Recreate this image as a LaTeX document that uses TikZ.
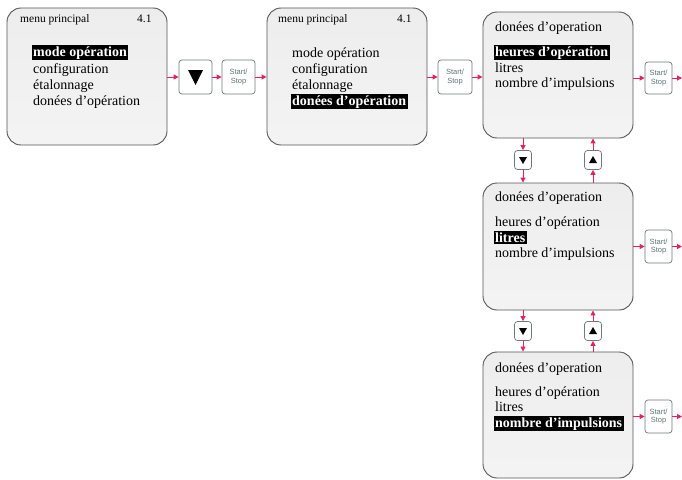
\documentclass[tikz,border=0pt]{standalone}
\usepackage{fontspec}
\setmainfont{Liberation Serif}
\newfontfamily\btnfont{Liberation Sans}
\usetikzlibrary{arrows.meta}
\definecolor{connred}{HTML}{E0245E}
\definecolor{edgegray}{HTML}{555555}
\definecolor{btnedge}{HTML}{707878}
\definecolor{btntext}{HTML}{5F7474}
\begin{document}
\begin{tikzpicture}[x=1pt,y=-1pt,
  panel/.style={draw=edgegray, line width=0.9pt, rounded corners=14pt,
    top color=gray!14, bottom color=gray!9, inner sep=0pt},
  btn/.style={draw=btnedge, fill=white, line width=0.7pt, rounded corners=3pt,
    inner sep=0pt, align=center, text=btntext,
    font=\btnfont\fontsize{7.5}{8.5}\selectfont},
  item/.style={anchor=base west, inner sep=0pt, font=\fontsize{14}{16}\selectfont},
  title/.style={anchor=base west, inner sep=0pt, font=\fontsize{11.5}{13}\selectfont},
  hl/.style={anchor=base west, fill=black, text=white, inner xsep=1.5pt, inner ysep=1.5pt,
    font=\fontsize{14}{16}\selectfont\bfseries},
  link/.style={draw=connred, line width=1pt, -{Triangle[length=5pt,width=5pt]}}]
\useasboundingbox (0,0) rectangle (682,479);

% panels
\node[panel, minimum width=160pt, minimum height=137pt] (b1) at (87,76.5) {};
\node[panel, minimum width=160pt, minimum height=137pt] (b2) at (347,76.5) {};
\node[panel, minimum width=150pt, minimum height=126pt] (b3) at (558,75) {};
\node[panel, minimum width=150pt, minimum height=127pt] (b4) at (558,246.5) {};
\node[panel, minimum width=150pt, minimum height=126pt] (b5) at (558,415) {};

% panel 1 text
\node[title] (t1) at (20,22) {menu principal};
\node[title] (n1) at (137,22) {4.1};
\node[hl] (m1a) at (31.5,56) {mode opération};
\node[item] (m1b) at (33,73) {configuration};
\node[item] (m1c) at (33,89) {étalonnage};
\node[item] (m1d) at (33,105) {donées d'opération};

% panel 2 text
\node[title] (t2) at (278,22) {menu principal};
\node[title] (n2) at (397,22) {4.1};
\node[item] (m2a) at (292,57) {mode opération};
\node[item] (m2b) at (292,73) {configuration};
\node[item] (m2c) at (292,89) {étalonnage};
\node[hl] (m2d) at (290.5,105) {donées d'opération};

% panel 3 text
\node[item] (t3) at (495,31) {donées d'operation};
\node[hl] (m3a) at (493.5,56) {heures d'opération};
\node[item] (m3b) at (495,72) {litres};
\node[item] (m3c) at (495,87) {nombre d'impulsions};

% panel 4 text
\node[item] (t4) at (495,201) {donées d'operation};
\node[item] (m4a) at (495,226) {heures d'opération};
\node[hl] (m4b) at (493.5,242) {litres};
\node[item] (m4c) at (495,257) {nombre d'impulsions};

% panel 5 text
\node[item] (t5) at (495,372) {donées d'operation};
\node[item] (m5a) at (495,396) {heures d'opération};
\node[item] (m5b) at (495,411) {litres};
\node[hl] (m5c) at (493.5,427) {nombre d'impulsions};

% buttons
\node[btn, minimum width=33pt, minimum height=34pt] (d1) at (195.5,77) {};
\node[btn, minimum width=33pt, minimum height=34pt] (s1) at (238.5,77) {Start/\\Stop};
\node[btn, minimum width=34pt, minimum height=34pt] (s2) at (455,77) {Start/\\Stop};
\node[btn, minimum width=27pt, minimum height=32pt] (s3) at (658.5,78) {Start/\\Stop};
\node[btn, minimum width=27pt, minimum height=33pt] (s4) at (658.5,246.5) {Start/\\Stop};
\node[btn, minimum width=27pt, minimum height=33pt] (s5) at (658.5,416.5) {Start/\\Stop};
\node[btn, minimum width=17pt, minimum height=19pt] (d2) at (523,160) {};
\node[btn, minimum width=17pt, minimum height=19pt] (u2) at (593,160) {};
\node[btn, minimum width=17pt, minimum height=19pt] (d3) at (523,331) {};
\node[btn, minimum width=17pt, minimum height=19pt] (u3) at (593,331) {};

% triangles
\fill (d1.center) +(-7.5,-7) -- +(7.5,-7) -- +(0,8) -- cycle;
\fill (d2.center) +(-4,-3) -- +(4,-3) -- +(0,4) -- cycle;
\fill (d3.center) +(-4,-3) -- +(4,-3) -- +(0,4) -- cycle;
\fill (u2.center) +(-4,3) -- +(4,3) -- +(0,-4) -- cycle;
\fill (u3.center) +(-4,3) -- +(4,3) -- +(0,-4) -- cycle;

% free ends
\coordinate (o3) at (682,78);
\coordinate (o4) at (682,246.5);
\coordinate (o5) at (682,416.5);

% connectors
\draw[link] (b1.east |- d1.west) -- (d1.west);
\draw[link] (d1.east) -- (s1.west);
\draw[link] (s1.east) -- (b2.west |- s1.east);
\draw[link] (b2.east |- s2.west) -- (s2.west);
\draw[link] (s2.east) -- (b3.west |- s2.east);
\draw[link] (b3.east |- s3.west) -- (s3.west);
\draw[link] (s3.east) -- (o3);
\draw[link] (b4.east |- s4.west) -- (s4.west);
\draw[link] (s4.east) -- (o4);
\draw[link] (b5.east |- s5.west) -- (s5.west);
\draw[link] (s5.east) -- (o5);

\draw[link] (b3.south -| d2) -- (d2.north);
\draw[link] (d2.south) -- (b4.north -| d2);
\draw[link] (b4.north -| u2) -- (u2.south);
\draw[link] (u2.north) -- (b3.south -| u2);

\draw[link] (b4.south -| d3) -- (d3.north);
\draw[link] (d3.south) -- (b5.north -| d3);
\draw[link] (b5.north -| u3) -- (u3.south);
\draw[link] (u3.north) -- (b4.south -| u3);
\end{tikzpicture}
\end{document}
